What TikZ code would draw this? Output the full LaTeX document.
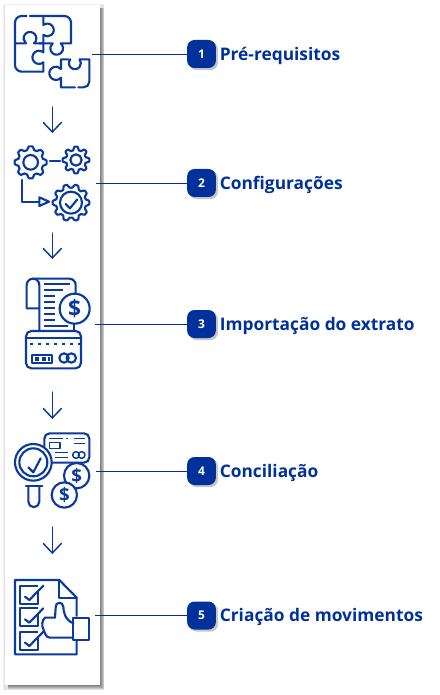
\documentclass[tikz,border=0pt]{standalone}
\usepackage{fontspec}
\setmainfont{Open Sans}
\usepackage{xcolor}
\usetikzlibrary{shadows,arrows,positioning,calc}
\definecolor{iconblue}{HTML}{0B3A9E}
\definecolor{darkblue}{HTML}{00309A}
\tikzset{
  iconline/.style={draw=iconblue, line width=1.6pt, line join=round, line cap=round},
  thinline/.style={draw=iconblue, line width=1.1pt, line join=round, line cap=round},
  leader/.style={draw=darkblue, line width=0.6pt},
  flowarrow/.style={draw=iconblue, line width=1.1pt},
  badge/.style={fill=darkblue, rounded corners=5.5pt, minimum width=21.5pt, minimum height=21pt, inner sep=0pt,
    text=white, font=\fontsize{9}{9}\selectfont\bfseries,
    drop shadow={shadow xshift=1.6pt, shadow yshift=-1.6pt, opacity=0.45}},
  steplabel/.style={right=2.6pt of #1, yshift=-1.2pt, text=darkblue, inner sep=0pt, font=\fontsize{13}{14}\selectfont\bfseries},
  dollar/.style={text=iconblue, inner sep=0pt, font=\fontsize{#1}{#1}\selectfont\bfseries}
}
% gear outline: x, y, radius, tooth depth, teeth
\newcommand{\gearicon}[5]{
  \draw[iconline] plot[domain=0:360, samples=181, smooth cycle]
    ({#1+(#3+#4*max(min(1.6*cos(#5*\x),1),-1))*cos(\x)},{#2+(#3+#4*max(min(1.6*cos(#5*\x),1),-1))*sin(\x)});
}
\begin{document}
\begin{tikzpicture}[x=0.75pt, y=-0.75pt]
  \useasboundingbox (0,0) rectangle (439,695);

  % Panel with its shadow
  \fill[black, opacity=0.06] (2.5,4) rectangle (104,690);
  \fill[black, opacity=0.06] (3.5,5) rectangle (104,690);
  \foreach \d in {0,1,2,3} {
    \fill[black, opacity=0.13] (8,8) rectangle ({103.5-\d},{689-\d});
  }
  \fill[white] (5,5) rectangle (99.5,685);

  % Puzzle
  \begin{scope}[scale=1/3]
    \draw[iconline] (80,48) -- (65,48) arc[start angle=270, end angle=180, radius=20] -- (45,195)
      arc[start angle=180, end angle=90, radius=20] -- (130,215) -- (130,187)
      arc[start angle=49, end angle=311, radius=19.8] -- (130,130) -- (102,130)
      arc[start angle=51, end angle=-231, radius=19.2] -- (45,130);
    \draw[iconline] (90,48) -- (193,48) arc[start angle=270, end angle=360, radius=20] -- (213,130) -- (182,130)
      arc[start angle=-51, end angle=231, radius=19.2] -- (118,130);
    \draw[iconline] (130,48) -- (130,75) arc[start angle=231, end angle=489, radius=19.2] -- (130,130);
    \draw[iconline] (211,178) arc[start angle=220, end angle=-40, radius=18] -- (268,178) -- (268,245)
      arc[start angle=0, end angle=90, radius=17] -- (235,262);
    \draw[iconline] (225,262) -- (183,262) -- (183,233) arc[start angle=41, end angle=319, radius=20] -- (183,178) -- (205,178);
  \end{scope}

  % Gears
  \begin{scope}[shift={(0,135)}, scale=1/3]
    \gearicon{92}{82}{43}{5}{8}
    \draw[iconline] (92,82) circle[radius=22];
    \gearicon{228}{75}{35}{5}{8}
    \draw[iconline] (228,75) circle[radius=17];
    \draw[iconline] (150,78) -- (180,78);
    \draw[iconline] (65,135) -- (65,200) -- (118,200);
    \draw[iconline] (118,187) -- (147,200) -- (118,213) -- cycle;
    \gearicon{213}{203}{50}{5}{10}
    \draw[iconline] (213,203) circle[radius=33];
    \draw[iconline] (197,207) -- (210,220) -- (232,193);
  \end{scope}

  % Receipt and card
  \begin{scope}[shift={(0,270)}, scale=1/3]
    \draw[iconline] (118,115) -- (80,115) -- (80,45) arc[start angle=180, end angle=270, radius=19] -- (208,26)
      arc[start angle=270, end angle=360, radius=19] -- (227,72);
    \draw[iconline] (99,26) arc[start angle=270, end angle=360, radius=19] -- (118,183);
    \draw[iconline] (223,160) -- (223,183);
    \foreach \yy/\xe in {42/210, 60/190, 78/165, 96/165, 114/165, 132/165, 150/165, 168/205} {
      \draw[thinline, line cap=butt, line width=1.5pt] (132,\yy) -- (\xe,\yy);
    }
    \draw[iconline, fill=white] (224,116) circle[radius=45];
    \node[dollar=17] (dollar1) at (224,116) {\$};
    \draw[iconline, rounded corners=4pt] (78,183) rectangle (243,295);
    \draw[iconline] (78,205) -- (243,205);
    \draw[thinline, line cap=butt, line width=1.5pt, dash pattern=on 2pt off 4pt] (90,221) -- (240,221);
    \draw[iconline] (97,255) rectangle (155,278);
    \draw[thinline, line cap=butt, line width=3pt, dash pattern=on 3pt off 2pt] (105,267) -- (150,267);
    \draw[iconline] (192,264) circle[radius=14] (214,264) circle[radius=14];
  \end{scope}

  % Magnifier, card and coins
  \begin{scope}[shift={(0,410)}, scale=1/3]
    \draw[iconline, rounded corners=4pt] (158,158) -- (268,158) -- (268,70) -- (133,70) -- (133,110);
    \draw[thinline, line cap=butt] (148,85) -- (190,85) (198,85) -- (205,85) (222,85) -- (255,85) (222,100) -- (255,100);
    \draw[thinline] (148,98) rectangle (180,115);
    \draw[thinline, line cap=butt] (165,128) -- (205,128) (165,143) -- (205,143);
    \draw[thinline] (228,135) circle[radius=10] (245,135) circle[radius=10];
    \draw[iconline, fill=white] (100,157) circle[radius=55];
    \draw[iconline] (100,157) circle[radius=42];
    \draw[iconline] (85,172) -- (100,187) -- (122,145);
    \draw[iconline] (78,228) -- (127,228);
    \draw[iconline] (85,228) -- (85,275) arc[start angle=180, end angle=0, radius=16.5] -- (118,228);
    \draw[iconline, fill=white] (230,197) circle[radius=38];
    \node[dollar=14] (dollar2) at (230,197) {\$};
    \draw[iconline, fill=white] (193,255) circle[radius=38];
    \node[dollar=14] (dollar3) at (193,255) {\$};
  \end{scope}

  % Checklist and thumb
  \begin{scope}[shift={(0,555)}, scale=1/3]
    \draw[iconline, line cap=butt] (230,185) -- (230,128) -- (178,75) -- (45,75) -- (45,298) -- (230,298) -- (230,255);
    \draw[iconline] (178,75) -- (178,128) -- (230,128);
    \foreach \yy in {92,160,230} {
      \draw[iconline, line cap=butt] (113,\yy+18) -- (113,\yy+54) -- (60,\yy+54) -- (60,\yy) -- (113,\yy);
      \draw[iconline] (75,\yy+33) -- (88,\yy+43) -- (130,\yy);
    }
    \draw[iconline] (220,188) rectangle (268,255);
    \draw[iconline] (220,205) .. controls (195,195) and (190,170) .. (190,155)
      .. controls (188,138) and (165,140) .. (167,158) -- (165,188) -- (135,188)
      .. controls (125,195) and (125,215) .. (130,222) .. controls (135,235) and (138,248) .. (150,248) -- (220,248);
  \end{scope}

  % Arrows between the icons
  \coordinate (puzzle) at (52.3,107);
  \coordinate (gearstop) at (52.3,132);
  \coordinate (gears) at (52.3,233);
  \coordinate (receipttop) at (52.3,258);
  \coordinate (receipt) at (52.3,392);
  \coordinate (magnifytop) at (52.3,418);
  \coordinate (magnify) at (52.3,527);
  \coordinate (checktop) at (52.3,553);
  \foreach \from/\to in {puzzle/gearstop, gears/receipttop, receipt/magnifytop, magnify/checktop} {
    \draw[flowarrow, line cap=round] (\from) -- (\to);
    \draw[flowarrow, line cap=round] ($(\to)+(-9,-9.5)$) -- (\to) -- ($(\to)+(9,-9.5)$);
  }

  % Badges and labels
  \node[badge] (b1) at (201.5,54) {1};
  \node[badge] (b2) at (201.5,183) {2};
  \node[badge] (b3) at (201.5,324) {3};
  \node[badge] (b4) at (201.5,471) {4};
  \node[badge] (b5) at (201.5,615.5) {5};
  \node[steplabel=b1] (l1) {Pré-requisitos};
  \node[steplabel=b2] (l2) {Configurações};
  \node[steplabel=b3] (l3) {Importação do extrato};
  \node[steplabel=b4] (l4) {Conciliação};
  \node[steplabel=b5] (l5) {Criação de movimentos};

  % Leader lines
  \coordinate (c1) at (92,54);
  \coordinate (c2) at (96,183);
  \coordinate (c3) at (95,324);
  \coordinate (c4) at (96,471);
  \coordinate (c5) at (95,615.5);
  \foreach \i in {1,...,5} {
    \draw[leader] (c\i) -- (b\i);
  }
\end{tikzpicture}
\end{document}
